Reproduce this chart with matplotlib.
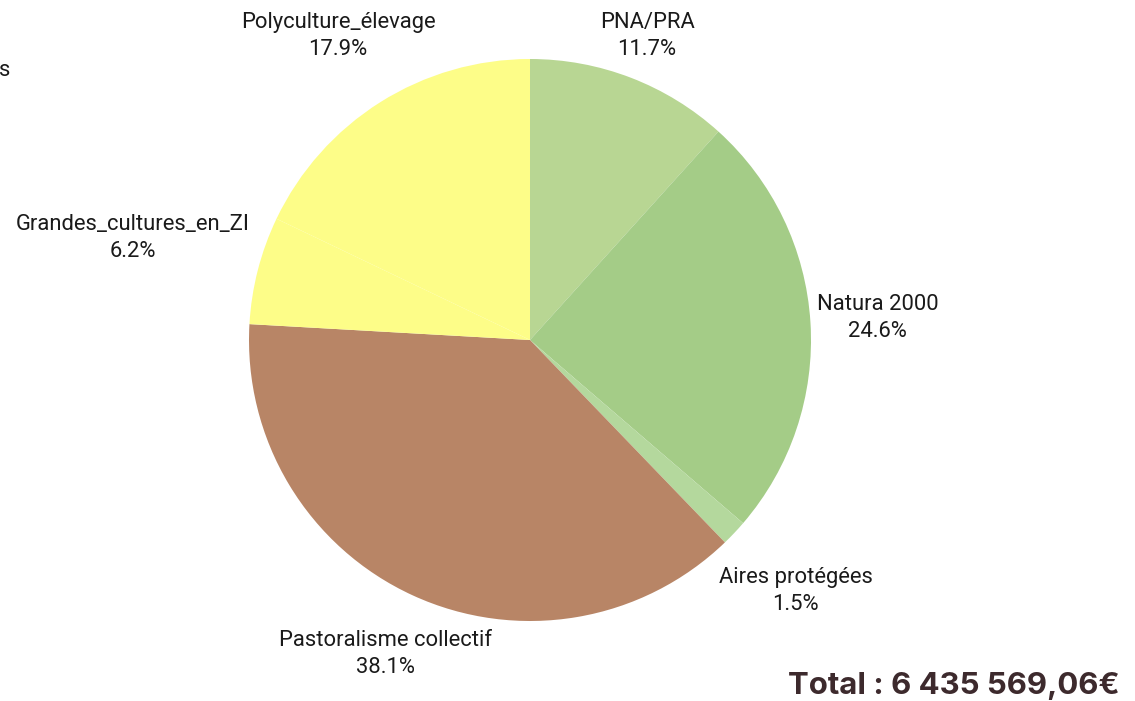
import numpy as np
import matplotlib
matplotlib.use("Agg")
import matplotlib.pyplot as plt

labels = ["PNA/PRA", "Natura 2000", "Aires protégées", "Pastoralisme collectif",
          "Grandes_cultures_en_ZI", "Polyculture_élevage"]
values = [11.7, 24.6, 1.5, 38.1, 6.2, 17.9]
colors = ["#b8d693", "#a4cc87", "#b4d89d", "#b88566", "#fdfd88", "#fdfd88"]
total_text = "Total : 6 435 569,06€"

# layout: label distance (in radii) per slice
label_dist = [1.16, 1.24, 1.30, 1.23, 1.46, 1.28]

W, H = 1135, 701
fig = plt.figure(figsize=(W / 100, H / 100), dpi=100)
cx, cy, r = 530, 340, 281
ax = fig.add_axes([(cx - r) / W, (H - cy - r) / H, 2 * r / W, 2 * r / H])
wedges, _ = ax.pie(values, colors=colors, startangle=90, counterclock=False,
                   radius=1, wedgeprops=dict(linewidth=0))
ax.set_xlim(-1, 1)
ax.set_ylim(-1, 1)
ax.set_aspect("equal")
ax.axis("off")

for w, lab, val, d in zip(wedges, labels, values, label_dist):
    ang = np.deg2rad((w.theta1 + w.theta2) / 2)
    ax.text(d * np.cos(ang), d * np.sin(ang), f"{lab}\n{val:.1f}%",
            ha="center", va="center", fontsize=15.8, family="Roboto",
            color="#1a1a1a", linespacing=1.38, clip_on=False)

fig.text(5 / W, 1 - 70 / H, "s", ha="center", va="center", fontsize=15.8,
         family="Roboto", color="#1a1a1a")

fig.text(1120 / W, 1 - 686 / H, total_text, ha="right", va="center",
         fontsize=22.4, family="Inter", fontweight="bold", color="#3d2a2d")

fig.savefig("out.png", dpi=100)
